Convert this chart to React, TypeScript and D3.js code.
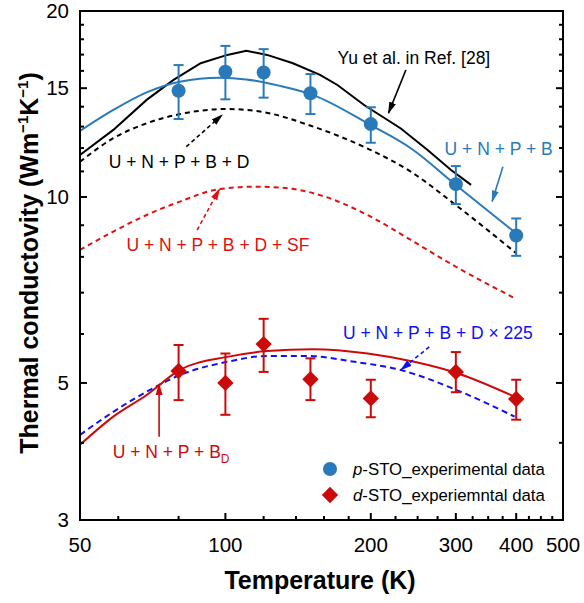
import React from 'react'
import * as d3 from 'd3'

// p-STO experimental data
const pTemp = [80, 100, 120, 150, 200, 300, 400]
const pK = [14.86, 15.95, 15.9, 14.72, 13.12, 10.49, 8.66]
const pLo = [13.37, 14.39, 14.48, 13.62, 12.24, 9.74, 8.03]
const pHi = [16.35, 17.56, 17.35, 15.81, 13.97, 11.22, 9.23]

// d-STO experimental data
const dTemp = [80, 100, 120, 150, 200, 300, 400]
const dK = [5.23, 5.0, 5.78, 5.07, 4.72, 5.21, 4.71]
const dLo = [4.69, 4.44, 5.21, 4.69, 4.4, 4.83, 4.36]
const dHi = [5.76, 5.58, 6.35, 5.48, 5.06, 5.61, 5.06]

// model curves
const unpbT = [50, 58.6, 68.7, 80.5, 97.3, 110.5, 129.7, 152, 200, 242, 300, 400]
const unpbK = [12.79, 13.83, 14.77, 15.37, 15.6, 15.5, 15.13, 14.62, 13.07, 11.99, 10.46, 8.73]

const yuT = [50, 58.6, 68.7, 78.1, 88.9, 100.9, 110.5, 122, 138, 157, 170.6, 193.7, 230.8, 262.2, 293.2, 322.6]
const yuK = [11.69, 12.84, 14.36, 15.47, 16.46, 16.98, 17.25, 16.98, 16.46, 15.76, 15.18, 14.09, 12.91, 11.91, 11.06, 10.46]

const unpbdT = [50, 58.6, 68.7, 80.5, 100.9, 118, 152, 200, 242, 300, 400]
const unpbdK = [11.4, 12.45, 13.16, 13.62, 13.88, 13.75, 13.0, 11.91, 10.99, 9.7, 8.11]

const sfT = [50, 58.6, 68.7, 80.5, 97.3, 114.6, 134.5, 157, 200, 242, 300, 397]
const sfK = [8.21, 8.79, 9.35, 9.83, 10.3, 10.39, 10.33, 10.07, 9.29, 8.52, 7.71, 6.86]

const bdT = [50, 58.6, 68.7, 80.5, 100.9, 122, 152, 197, 246, 303, 404]
const bdK = [3.97, 4.41, 4.78, 5.25, 5.51, 5.63, 5.67, 5.58, 5.41, 5.18, 4.72]

const x225T = [50, 58.6, 68.7, 80.5, 100.9, 122, 147, 185, 230, 303, 397]
const x225K = [4.12, 4.49, 4.84, 5.15, 5.41, 5.53, 5.53, 5.41, 5.25, 4.86, 4.41]

// ticks
const xMajor = [50, 100, 200, 300, 400, 500]
const xMinor = [60, 80, 120, 140, 160, 180, 225, 250, 275, 325, 350, 375, 425, 450, 475]
const yMajor = [3, 5, 10, 15, 20]
const yMinor = [4, 6, 7, 8, 9, 11, 12, 13, 14, 16, 17, 18, 19]

const BLUE = '#2a7ab9'
const RED = '#cc0a0a'
const RED_DASH = '#e01010'
const PURE_BLUE = '#1010f0'
const FONT = '"Liberation Sans", Arial, Helvetica, sans-serif'

export default function App() {
  const x = d3.scaleLog().domain([50, 500]).range([80, 563])
  const y = d3.scaleLog().domain([3, 20]).range([520, 11])
  const left = 80, right = 563, top = 11, bottom = 520

  const path = (ts: number[], ks: number[], curve: any) =>
    d3.line<number>().x((_, i) => x(ts[i])).y(d => y(d)).curve(curve)(ks) || ''

  const arrow = (t0: number, k0: number, t1: number, k1: number, color: string, id: string, dash?: string) => (
    <line x1={x(t0)} y1={y(k0)} x2={x(t1)} y2={y(k1)} stroke={color} strokeWidth={1.6}
      strokeDasharray={dash} markerEnd={`url(#${id})`} />
  )

  const marker = (id: string, color: string) => (
    <marker id={id} viewBox="0 0 12 10" refX={11} refY={5} markerWidth={12} markerHeight={10}
      markerUnits="userSpaceOnUse" orient="auto">
      <path d="M0,1.5 L12,5 L0,8.5 Z" fill={color} />
    </marker>
  )

  const diamond = d3.symbol().type(d3.symbolDiamond2 as any).size(170)()

  return (
    <svg width={584} height={603} style={{ position: 'absolute', left: 0, top: 0, background: '#fff' }}
      fontFamily={FONT}>
      <defs>
        {marker('ahBlack', '#000')}
        {marker('ahBlue', BLUE)}
        {marker('ahRed', RED)}
        {marker('ahRedD', RED_DASH)}
        {marker('ahPB', PURE_BLUE)}
        <clipPath id="plot"><rect x={left} y={top} width={right - left} height={bottom - top} /></clipPath>
      </defs>

      {/* curves */}
      <g clipPath="url(#plot)" fill="none" strokeWidth={2}>
        <path d={path(sfT, sfK, d3.curveMonotoneX)} stroke={RED_DASH} strokeDasharray="5,4" />
        <path d={path(unpbdT, unpbdK, d3.curveMonotoneX)} stroke="#000" strokeDasharray="5,4" />
        <path d={path(yuT, yuK, d3.curveLinear)} stroke="#000" />
        <path d={path(unpbT, unpbK, d3.curveMonotoneX)} stroke={BLUE} />
        <path d={path(x225T, x225K, d3.curveMonotoneX)} stroke={PURE_BLUE} strokeDasharray="6,4" />
        <path d={path(bdT, bdK, d3.curveMonotoneX)} stroke={RED} />
      </g>

      {/* p-STO points */}
      <g stroke={BLUE} strokeWidth={2} fill={BLUE}>
        {pTemp.map((t, i) => (
          <g key={i}>
            <line x1={x(t)} x2={x(t)} y1={y(pLo[i])} y2={y(pHi[i])} />
            <line x1={x(t) - 5} x2={x(t) + 5} y1={y(pLo[i])} y2={y(pLo[i])} />
            <line x1={x(t) - 5} x2={x(t) + 5} y1={y(pHi[i])} y2={y(pHi[i])} />
            <circle cx={x(t)} cy={y(pK[i])} r={7} stroke="none" />
          </g>
        ))}
      </g>

      {/* d-STO points */}
      <g stroke={RED} strokeWidth={2} fill={RED}>
        {dTemp.map((t, i) => (
          <g key={i}>
            <line x1={x(t)} x2={x(t)} y1={y(dLo[i])} y2={y(dHi[i])} />
            <line x1={x(t) - 5} x2={x(t) + 5} y1={y(dLo[i])} y2={y(dLo[i])} />
            <line x1={x(t) - 5} x2={x(t) + 5} y1={y(dHi[i])} y2={y(dHi[i])} />
            <path d={diamond || ''} transform={`translate(${x(t)},${y(dK[i])})`} stroke="none" />
          </g>
        ))}
      </g>

      {/* annotations */}
      <g fontSize={17.5}>
        {arrow(236.4, 16.05, 217.6, 13.67, '#000', 'ahBlack')}
        <text x={x(245.6)} y={y(16.42)} textAnchor="middle" fill="#000">Yu et al. in Ref. [28]</text>

        {arrow(375.4, 11.19, 356.6, 9.83, BLUE, 'ahBlue')}
        <text x={x(367.9)} y={y(11.69)} textAnchor="middle" fill={BLUE}>U + N + P + B</text>

        {arrow(83.0, 12.06, 98.5, 13.58, '#000', 'ahBlack', '4,3')}
        <text x={x(80.2)} y={y(11.14)} textAnchor="middle" fill="#000">U + N + P + B + D</text>

        {arrow(87.4, 8.84, 97.2, 10.3, RED_DASH, 'ahRedD', '4,3')}
        <text x={x(96.5)} y={y(8.18)} textAnchor="middle" fill={RED_DASH}>U + N + P + B + D + SF</text>

        {arrow(264.3, 5.72, 230.8, 5.25, PURE_BLUE, 'ahPB', '4,3')}
        <text x={x(275.4)} y={y(5.88)} textAnchor="middle" fill={PURE_BLUE}>U + N + P + B + D × 225</text>

        {arrow(72.9, 4.09, 72.9, 4.98, RED, 'ahRed')}
        <text x={x(77.2)} y={y(3.78)} textAnchor="middle" fill={RED}>
          U + N + P + B<tspan fontSize={12} dy={5}>D</tspan>
        </text>
      </g>

      {/* legend */}
      <g fontSize={16.8}>
        <circle cx={330} cy={469} r={7} fill={BLUE} />
        <text x={353} y={475}><tspan fontStyle="italic">p</tspan>-STO_experimental data</text>
        <path d={diamond || ''} transform="translate(330,495)" fill={RED} />
        <text x={353} y={501}><tspan fontStyle="italic">d</tspan>-STO_experiemntal data</text>
      </g>

      {/* frame */}
      <rect x={left} y={top} width={right - left} height={bottom - top} fill="none" stroke="#000" strokeWidth={2} />

      {/* ticks */}
      <g stroke="#000" strokeWidth={2}>
        {xMajor.map(t => <line key={'xM' + t} x1={x(t)} x2={x(t)} y1={bottom} y2={bottom - 7} />)}
        {xMinor.map(t => <line key={'xm' + t} x1={x(t)} x2={x(t)} y1={bottom} y2={bottom - 4} />)}
        {yMajor.map(k => (
          <g key={'yM' + k}>
            <line x1={left} x2={left + 7} y1={y(k)} y2={y(k)} />
            <line x1={right} x2={right - 7} y1={y(k)} y2={y(k)} />
          </g>
        ))}
        {yMinor.map(k => (
          <g key={'ym' + k}>
            <line x1={left} x2={left + 4} y1={y(k)} y2={y(k)} />
            <line x1={right} x2={right - 4} y1={y(k)} y2={y(k)} />
          </g>
        ))}
      </g>

      {/* tick labels */}
      <g fontSize={20.5} fill="#000">
        {xMajor.map(t => <text key={'xl' + t} x={x(t)} y={552} textAnchor="middle">{t}</text>)}
        {yMajor.map(k => <text key={'yl' + k} x={69} y={y(k) + 7} textAnchor="end">{k}</text>)}
      </g>

      {/* axis titles */}
      <text x={320} y={589} textAnchor="middle" fontSize={25} fontWeight="bold">Temperature (K)</text>
      <text transform="translate(38,263) rotate(-90)" textAnchor="middle" fontSize={25} fontWeight="bold">
        Thermal conductovity (Wm<tspan fontSize={15} dy={-10}>−1</tspan><tspan dy={10}>K</tspan><tspan fontSize={15} dy={-10}>−1</tspan><tspan dy={10}>)</tspan>
      </text>
    </svg>
  )
}
